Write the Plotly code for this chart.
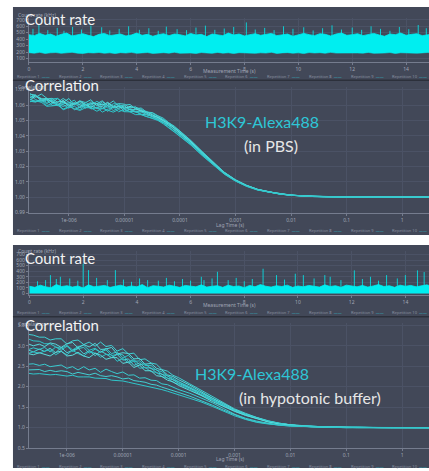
import plotly.graph_objects as go

W, H = 429, 471

# ---------------- data ----------------
LAG_TIME_S = [2.0e-7, 2.5e-7, 3.2e-7, 4.0e-7, 5.0e-7, 6.3e-7, 7.9e-7, 1.0e-6, 1.26e-6, 1.58e-6,
              2.0e-6, 2.5e-6, 3.2e-6, 4.0e-6, 5.0e-6, 6.3e-6, 7.9e-6, 1.0e-5, 1.26e-5, 1.58e-5,
              2.0e-5, 2.5e-5, 3.2e-5, 4.0e-5, 5.0e-5, 6.3e-5, 7.9e-5, 1.0e-4, 1.58e-4, 2.5e-4,
              4.0e-4, 6.3e-4, 1.0e-3, 1.58e-3, 2.5e-3, 4.0e-3, 6.3e-3, 1.0e-2, 1.58e-2, 2.5e-2,
              4.0e-2, 6.3e-2, 0.1, 0.158, 0.25, 0.4, 0.63, 1.0, 1.58, 2.5, 3.2]

PBS_REP1 = [1.0675, 1.0650, 1.0672, 1.0645, 1.0618, 1.0642, 1.0617, 1.0643, 1.0600, 1.0628, 1.0616, 1.0635, 1.0593, 1.0622, 1.0600, 1.0627, 1.0594, 1.0600, 1.0604, 1.0576, 1.0581, 1.0555, 1.0551, 1.0531, 1.0515, 1.0485, 1.0463, 1.0431, 1.0369, 1.0298, 1.0226, 1.0163, 1.0114, 1.0078, 1.0052, 1.0035, 1.0022, 1.0014, 1.0009, 1.0006, 1.0004, 1.0003, 1.0002, 1.0003, 1.0002, 1.0002, 1.0003, 1.0002, 1.0002, 1.0003, 1.0002]
PBS_REP2 = [1.0647, 1.0662, 1.0644, 1.0617, 1.0640, 1.0644, 1.0609, 1.0615, 1.0632, 1.0590, 1.0618, 1.0597, 1.0625, 1.0604, 1.0582, 1.0609, 1.0606, 1.0582, 1.0586, 1.0588, 1.0563, 1.0559, 1.0540, 1.0520, 1.0506, 1.0485, 1.0453, 1.0425, 1.0363, 1.0293, 1.0223, 1.0161, 1.0112, 1.0077, 1.0051, 1.0035, 1.0023, 1.0014, 1.0010, 1.0006, 1.0005, 1.0003, 1.0003, 1.0002, 1.0002, 1.0003, 1.0002, 1.0002, 1.0003, 1.0002, 1.0002]
PBS_REP3 = [1.0650, 1.0665, 1.0627, 1.0640, 1.0623, 1.0597, 1.0632, 1.0598, 1.0615, 1.0603, 1.0581, 1.0610, 1.0608, 1.0577, 1.0615, 1.0592, 1.0579, 1.0595, 1.0569, 1.0571, 1.0566, 1.0548, 1.0529, 1.0522, 1.0497, 1.0476, 1.0451, 1.0418, 1.0359, 1.0289, 1.0220, 1.0159, 1.0111, 1.0076, 1.0050, 1.0034, 1.0022, 1.0014, 1.0009, 1.0006, 1.0004, 1.0003, 1.0003, 1.0002, 1.0002, 1.0002, 1.0003, 1.0002, 1.0002, 1.0002, 1.0003]
PBS_REP4 = [1.0662, 1.0637, 1.0619, 1.0632, 1.0635, 1.0599, 1.0604, 1.0580, 1.0607, 1.0615, 1.0583, 1.0592, 1.0580, 1.0609, 1.0597, 1.0564, 1.0581, 1.0587, 1.0571, 1.0553, 1.0558, 1.0546, 1.0522, 1.0512, 1.0496, 1.0469, 1.0440, 1.0412, 1.0353, 1.0284, 1.0217, 1.0156, 1.0110, 1.0075, 1.0050, 1.0034, 1.0022, 1.0013, 1.0009, 1.0006, 1.0004, 1.0003, 1.0002, 1.0002, 1.0003, 1.0002, 1.0002, 1.0002, 1.0003, 1.0002, 1.0002]
PBS_REP5 = [1.0625, 1.0620, 1.0632, 1.0635, 1.0598, 1.0602, 1.0617, 1.0603, 1.0570, 1.0588, 1.0606, 1.0575, 1.0583, 1.0592, 1.0560, 1.0587, 1.0594, 1.0560, 1.0574, 1.0556, 1.0541, 1.0536, 1.0527, 1.0504, 1.0488, 1.0466, 1.0437, 1.0408, 1.0348, 1.0280, 1.0214, 1.0154, 1.0108, 1.0074, 1.0049, 1.0033, 1.0021, 1.0013, 1.0008, 1.0005, 1.0004, 1.0002, 1.0002, 1.0002, 1.0001, 1.0002, 1.0002, 1.0001, 1.0002, 1.0002, 1.0001]
PBS_REP6 = [1.0637, 1.0622, 1.0634, 1.0597, 1.0610, 1.0614, 1.0569, 1.0585, 1.0592, 1.0570, 1.0598, 1.0577, 1.0585, 1.0554, 1.0572, 1.0589, 1.0556, 1.0572, 1.0556, 1.0558, 1.0538, 1.0525, 1.0516, 1.0504, 1.0484, 1.0456, 1.0430, 1.0400, 1.0342, 1.0275, 1.0211, 1.0152, 1.0106, 1.0072, 1.0048, 1.0033, 1.0021, 1.0013, 1.0008, 1.0005, 1.0003, 1.0002, 1.0002, 1.0001, 1.0002, 1.0002, 1.0001, 1.0002, 1.0002, 1.0001, 1.0002]
PBS_REP7 = [1.0633, 1.0658, 1.0640, 1.0643, 1.0616, 1.0620, 1.0625, 1.0591, 1.0608, 1.0626, 1.0604, 1.0583, 1.0611, 1.0600, 1.0618, 1.0585, 1.0592, 1.0578, 1.0592, 1.0579, 1.0559, 1.0556, 1.0536, 1.0518, 1.0502, 1.0480, 1.0451, 1.0421, 1.0360, 1.0291, 1.0221, 1.0159, 1.0111, 1.0076, 1.0051, 1.0034, 1.0022, 1.0014, 1.0009, 1.0006, 1.0004, 1.0003, 1.0002, 1.0002, 1.0002, 1.0003, 1.0002, 1.0002, 1.0002, 1.0003, 1.0002]
PBS_REP8 = [1.0639, 1.0624, 1.0636, 1.0609, 1.0632, 1.0606, 1.0591, 1.0607, 1.0614, 1.0582, 1.0600, 1.0609, 1.0577, 1.0576, 1.0594, 1.0581, 1.0598, 1.0574, 1.0558, 1.0560, 1.0555, 1.0539, 1.0528, 1.0510, 1.0488, 1.0467, 1.0441, 1.0410, 1.0351, 1.0283, 1.0216, 1.0155, 1.0109, 1.0075, 1.0050, 1.0034, 1.0022, 1.0014, 1.0009, 1.0006, 1.0004, 1.0003, 1.0002, 1.0002, 1.0002, 1.0002, 1.0002, 1.0003, 1.0002, 1.0002, 1.0002]
PBS_REP9 = [1.0671, 1.0666, 1.0628, 1.0641, 1.0644, 1.0618, 1.0643, 1.0619, 1.0606, 1.0624, 1.0592, 1.0621, 1.0609, 1.0628, 1.0596, 1.0593, 1.0610, 1.0606, 1.0580, 1.0587, 1.0572, 1.0552, 1.0548, 1.0528, 1.0509, 1.0483, 1.0458, 1.0429, 1.0366, 1.0296, 1.0225, 1.0162, 1.0113, 1.0078, 1.0052, 1.0035, 1.0023, 1.0015, 1.0010, 1.0007, 1.0005, 1.0004, 1.0003, 1.0003, 1.0002, 1.0003, 1.0003, 1.0002, 1.0003, 1.0002, 1.0003]
PBS_REP10 = [1.0622, 1.0627, 1.0619, 1.0592, 1.0595, 1.0599, 1.0574, 1.0590, 1.0577, 1.0565, 1.0583, 1.0582, 1.0560, 1.0579, 1.0567, 1.0554, 1.0571, 1.0557, 1.0556, 1.0538, 1.0538, 1.0525, 1.0508, 1.0500, 1.0478, 1.0453, 1.0425, 1.0396, 1.0339, 1.0272, 1.0209, 1.0150, 1.0105, 1.0071, 1.0047, 1.0033, 1.0021, 1.0013, 1.0008, 1.0005, 1.0003, 1.0002, 1.0001, 1.0002, 1.0002, 1.0001, 1.0002, 1.0002, 1.0001, 1.0002, 1.0002]

HYPO_REP1 = [3.28, 3.26, 3.21, 3.21, 3.14, 3.17, 3.17, 3.04, 3.12, 3.14, 3.03, 3.09, 2.99, 3.09, 2.98, 3.01, 2.87, 2.93, 2.80, 2.82, 2.66, 2.68, 2.58, 2.55, 2.42, 2.38, 2.28, 2.22, 2.07, 1.92, 1.76, 1.61, 1.46, 1.35, 1.25, 1.17, 1.11, 1.07, 1.05, 1.03, 1.02, 1.01, 1.01, 1.01, 1.004, 0.998, 1.002, 1.000, 0.999, 1.003, 1.001]
HYPO_REP2 = [3.17, 3.12, 3.11, 3.05, 3.05, 2.97, 2.94, 3.01, 2.90, 2.98, 3.01, 2.89, 2.94, 2.84, 2.94, 2.81, 2.85, 2.70, 2.77, 2.62, 2.63, 2.52, 2.52, 2.40, 2.37, 2.26, 2.21, 2.12, 2.00, 1.85, 1.72, 1.57, 1.43, 1.32, 1.24, 1.16, 1.10, 1.07, 1.04, 1.03, 1.02, 1.01, 1.01, 1.01, 1.003, 1.001, 0.998, 1.002, 1.000, 0.999, 1.002]
HYPO_REP3 = [3.05, 3.00, 3.04, 2.98, 3.07, 3.04, 2.96, 3.05, 3.08, 2.95, 3.03, 2.97, 3.06, 2.91, 2.92, 2.96, 2.80, 2.83, 2.81, 2.68, 2.69, 2.55, 2.57, 2.45, 2.41, 2.29, 2.25, 2.17, 2.04, 1.88, 1.72, 1.59, 1.44, 1.33, 1.24, 1.16, 1.11, 1.07, 1.05, 1.03, 1.02, 1.01, 1.01, 1.01, 1.002, 1.000, 1.003, 0.999, 1.001, 1.002, 0.998]
HYPO_REP4 = [2.90, 2.95, 2.91, 2.96, 2.85, 2.97, 2.89, 2.99, 2.86, 2.93, 2.96, 2.82, 2.92, 2.84, 2.90, 2.76, 2.79, 2.78, 2.61, 2.66, 2.54, 2.56, 2.44, 2.42, 2.30, 2.27, 2.17, 2.12, 1.97, 1.85, 1.69, 1.56, 1.42, 1.32, 1.23, 1.15, 1.10, 1.07, 1.04, 1.03, 1.02, 1.01, 1.01, 1.01, 1.001, 0.999, 1.002, 1.001, 0.998, 1.000, 1.002]
HYPO_REP5 = [2.90, 2.85, 2.92, 2.86, 2.94, 2.83, 2.96, 2.83, 2.89, 2.94, 2.80, 2.88, 2.76, 2.87, 2.80, 2.71, 2.79, 2.65, 2.68, 2.52, 2.58, 2.46, 2.46, 2.34, 2.31, 2.21, 2.17, 2.08, 1.97, 1.81, 1.68, 1.55, 1.41, 1.31, 1.23, 1.15, 1.10, 1.07, 1.04, 1.03, 1.02, 1.01, 1.01, 1.01, 1.000, 1.002, 0.999, 1.001, 1.003, 0.999, 1.000]
HYPO_REP6 = [2.81, 2.85, 2.82, 2.87, 2.90, 2.78, 2.86, 2.78, 2.89, 2.81, 2.75, 2.86, 2.82, 2.72, 2.79, 2.78, 2.62, 2.69, 2.58, 2.62, 2.45, 2.47, 2.37, 2.35, 2.25, 2.21, 2.11, 2.06, 1.94, 1.79, 1.67, 1.53, 1.40, 1.30, 1.22, 1.15, 1.10, 1.06, 1.04, 1.03, 1.02, 1.01, 1.01, 1.01, 1.002, 0.998, 1.001, 1.000, 1.002, 0.999, 1.001]
HYPO_REP7 = [2.81, 2.78, 2.83, 2.79, 2.75, 2.84, 2.87, 2.75, 2.77, 2.84, 2.75, 2.71, 2.82, 2.77, 2.67, 2.71, 2.71, 2.57, 2.60, 2.47, 2.53, 2.39, 2.39, 2.27, 2.25, 2.16, 2.12, 2.03, 1.91, 1.79, 1.64, 1.52, 1.40, 1.30, 1.22, 1.14, 1.09, 1.06, 1.04, 1.02, 1.02, 1.01, 1.01, 1.00, 1.001, 1.000, 0.998, 1.002, 1.001, 0.999, 1.000]
HYPO_REP8 = [2.55, 2.56, 2.52, 2.55, 2.49, 2.51, 2.53, 2.45, 2.49, 2.41, 2.49, 2.41, 2.45, 2.35, 2.43, 2.37, 2.32, 2.36, 2.28, 2.29, 2.21, 2.22, 2.16, 2.15, 2.07, 2.05, 1.99, 1.93, 1.84, 1.73, 1.61, 1.47, 1.33, 1.23, 1.16, 1.11, 1.07, 1.05, 1.03, 1.02, 1.01, 1.01, 1.01, 1.00, 1.002, 0.999, 1.001, 1.000, 0.998, 1.001, 1.000]
HYPO_REP9 = [2.41, 2.42, 2.42, 2.37, 2.40, 2.37, 2.39, 2.37, 2.31, 2.35, 2.32, 2.29, 2.33, 2.27, 2.25, 2.27, 2.24, 2.19, 2.21, 2.15, 2.13, 2.11, 2.06, 2.04, 1.99, 1.95, 1.90, 1.86, 1.77, 1.67, 1.55, 1.43, 1.31, 1.21, 1.14, 1.10, 1.06, 1.04, 1.03, 1.02, 1.01, 1.01, 1.00, 1.002, 1.000, 0.999, 1.001, 1.002, 0.999, 1.000, 1.001]
HYPO_REP10 = [2.33, 2.31, 2.32, 2.31, 2.29, 2.30, 2.28, 2.26, 2.28, 2.24, 2.24, 2.24, 2.21, 2.20, 2.20, 2.16, 2.15, 2.14, 2.11, 2.08, 2.06, 2.03, 2.00, 1.97, 1.93, 1.89, 1.85, 1.80, 1.72, 1.63, 1.52, 1.40, 1.29, 1.20, 1.13, 1.09, 1.06, 1.04, 1.03, 1.02, 1.01, 1.01, 1.00, 1.001, 0.999, 1.002, 1.000, 0.998, 1.001, 1.000, 0.999]

PBS_CURVES = [PBS_REP1, PBS_REP2, PBS_REP3, PBS_REP4, PBS_REP5,
              PBS_REP6, PBS_REP7, PBS_REP8, PBS_REP9, PBS_REP10]
HYPO_CURVES = [HYPO_REP1, HYPO_REP2, HYPO_REP3, HYPO_REP4, HYPO_REP5,
               HYPO_REP6, HYPO_REP7, HYPO_REP8, HYPO_REP9, HYPO_REP10]

COUNT_STEP_S = 0.2
CR1_UPPER = [470, 455, 490, 460, 480, 445, 475, 495, 450, 470,
             485, 460, 440, 475, 490, 455, 470, 480, 450, 465,
             495, 460, 475, 445, 470, 485, 455, 480, 470, 450,
             490, 465, 475, 440, 480, 470, 455, 495, 465, 480,
             450, 470, 485, 460, 475, 490, 455, 470, 480, 445,
             465, 490, 470, 455, 485, 475, 450, 480, 495, 460,
             470, 485, 455, 475, 490, 465, 445, 480, 470, 495,
             460, 475, 485, 455, 470, 480]
CR1_LOWER = [190, 182, 195, 178, 188, 192, 180, 186, 196, 183,
             178, 190, 185, 193, 181, 188, 176, 191, 184, 195,
             180, 187, 192, 179, 186, 190, 183, 197, 181, 188,
             185, 178, 192, 186, 180, 194, 183, 189, 177, 190,
             186, 193, 180, 188, 184, 196, 179, 187, 191, 182,
             188, 176, 192, 185, 190, 181, 195, 184, 187, 179,
             191, 186, 183, 194, 180, 188, 185, 192, 178, 189,
             184, 190, 182, 187, 193, 185]
CR1_SPIKE_T = [0.15, 0.37, 0.7, 1.05, 1.3, 1.62, 1.95, 2.3, 2.7, 3.0, 3.35, 3.7, 4.1, 4.45, 4.8,
               5.1, 5.5, 5.85, 6.2, 6.55, 6.9, 7.25, 7.6, 8.07, 8.4, 8.75, 9.1, 9.45, 9.8, 10.2,
               10.55, 10.9, 11.25, 11.6, 12.0, 12.35, 12.7, 13.05, 13.4, 13.75, 14.1, 14.45, 14.75]
CR1_SPIKE_H = [560, 625, 540, 575, 530, 590, 550, 610, 585, 535, 560, 600, 545, 570, 530,
               595, 555, 540, 580, 610, 545, 565, 590, 660, 550, 575, 540, 600, 560, 585,
               535, 570, 615, 550, 580, 545, 600, 560, 530, 590, 555, 620, 570]

CR2_UPPER = [130, 110, 150, 120, 105, 160, 125, 140, 115, 135,
             100, 155, 120, 130, 145, 110, 125, 150, 115, 135,
             120, 160, 105, 140, 130, 115, 150, 125, 110, 145,
             135, 120, 155, 115, 130, 140, 110, 150, 125, 135,
             105, 145, 120, 160, 130, 115, 140, 125, 150, 110,
             135, 120, 145, 130, 115, 155, 125, 140, 110, 150,
             130, 120, 145, 115, 135, 160, 125, 140, 110, 150,
             130, 145, 120, 135, 155, 125]
CR2_SPIKE_T = [0.3, 0.6, 0.78, 1.0, 1.15, 1.5, 1.8, 2.0, 2.2, 2.5, 2.9, 3.2, 3.5, 3.8, 4.1, 4.4,
               4.8, 5.1, 5.4, 5.7, 6.0, 6.4, 6.5, 6.8, 7.0, 7.4, 7.7, 8.0, 8.3, 8.7, 9.2, 9.5,
               9.9, 10.2, 10.6, 11.0, 11.2, 11.6, 12.1, 12.4, 12.7, 13.0, 13.3, 13.7, 14.0, 14.45, 14.7]
CR2_SPIKE_H = [220, 240, 330, 260, 300, 270, 230, 535, 420, 280, 240, 420, 250, 210, 270, 240,
               230, 280, 220, 260, 230, 300, 240, 270, 390, 240, 280, 220, 260, 445, 330, 250,
               355, 330, 270, 330, 300, 240, 415, 260, 300, 230, 330, 270, 330, 415, 385]

COUNT_TICKS = [0, 2, 4, 6, 8, 10, 12, 14]
LAG_TICKVALS = [1e-6, 1e-5, 1e-4, 1e-3, 1e-2, 1e-1, 1]
LAG_TICKTEXT = ["1e-006", "0.00001", "0.0001", "0.001", "0.01", "0.1", "1"]
PBS_YTICKS = [0.99, 1.00, 1.01, 1.02, 1.03, 1.04, 1.05, 1.06, 1.07]
HYPO_YTICKS = [0.5, 1.0, 1.5, 2.0, 2.5, 3.0, 3.5]
CR1_YTICKS = [100, 200, 300, 400, 500, 600, 700]
CR2_YTICKS = [0, 100, 200, 300, 400, 500, 600, 700]
REPETITIONS = ["Repetition %d" % k for k in range(1, 11)]

for c in PBS_CURVES + HYPO_CURVES:
    assert len(c) == len(LAG_TIME_S), len(c)

# ---------------- style ----------------
BG = "#424858"
GRID = "#4b5265"
AXLINE = "#757c8e"
TICKTXT = "#a0a6b5"
BAND = "#00eef0"
CURVE_COLORS = ["#3fd0d4", "#2fc3c8", "#55d9db", "#36c8cc", "#48d2d6",
                "#2dbfc6", "#5adcdc", "#3acbd0", "#44cfd2", "#30c6cb"]
TITLE_CYAN = "#2ec6d6"


def px(x):
    return x / W


def py(y):
    return 1 - y / H


def ydom(top, bottom):
    return [py(bottom), py(top)]


fig = go.Figure()


def times(n):
    return [i * COUNT_STEP_S for i in range(n)]


def spikes(ts, hs, base):
    xs, ys = [], []
    for t, h in zip(ts, hs):
        xs += [t, t, None]
        ys += [base, h, None]
    return xs, ys


# count rate panel 1
t1 = times(len(CR1_UPPER))
fig.add_trace(go.Scatter(x=t1, y=CR1_LOWER, mode="lines", line=dict(width=0.6, color=BAND),
                         xaxis="x", yaxis="y", hoverinfo="skip"))
fig.add_trace(go.Scatter(x=t1, y=CR1_UPPER, mode="lines", line=dict(width=0.8, color=BAND),
                         fill="tonexty", fillcolor=BAND, xaxis="x", yaxis="y", hoverinfo="skip"))
sx, sy = spikes(CR1_SPIKE_T, CR1_SPIKE_H, 400)
fig.add_trace(go.Scatter(x=sx, y=sy, mode="lines", line=dict(width=0.8, color=BAND),
                         xaxis="x", yaxis="y", hoverinfo="skip"))

# correlation panel 1
for i, c in enumerate(PBS_CURVES):
    fig.add_trace(go.Scatter(x=LAG_TIME_S, y=c, mode="lines", name=REPETITIONS[i],
                             line=dict(width=1, color=CURVE_COLORS[i]), xaxis="x2", yaxis="y2"))

# count rate panel 2
t2 = times(len(CR2_UPPER))
fig.add_trace(go.Scatter(x=t2, y=CR2_UPPER, mode="lines", line=dict(width=0.8, color=BAND),
                         fill="tozeroy", fillcolor=BAND, xaxis="x3", yaxis="y3", hoverinfo="skip"))
sx, sy = spikes(CR2_SPIKE_T, CR2_SPIKE_H, 60)
fig.add_trace(go.Scatter(x=sx, y=sy, mode="lines", line=dict(width=0.8, color=BAND),
                         xaxis="x3", yaxis="y3", hoverinfo="skip"))

# correlation panel 2
for i, c in enumerate(HYPO_CURVES):
    fig.add_trace(go.Scatter(x=LAG_TIME_S, y=c, mode="lines", name=REPETITIONS[i],
                             line=dict(width=1, color=CURVE_COLORS[i]), xaxis="x4", yaxis="y4"))

ax = dict(showgrid=True, gridcolor=GRID, gridwidth=1, showline=True, linecolor=AXLINE,
          linewidth=1, ticks="outside", ticklen=2, tickcolor=AXLINE, zeroline=False,
          tickfont=dict(size=5, color=TICKTXT, family="Noto Sans"))

XDOM = [px(28), 1]
fig.update_layout(
    width=W, height=H, margin=dict(l=0, r=0, t=0, b=0),
    paper_bgcolor="white", plot_bgcolor="rgba(0,0,0,0)", showlegend=False,
    xaxis=dict(ax, domain=XDOM, anchor="y", range=[0, 14.85], tickvals=COUNT_TICKS),
    yaxis=dict(ax, domain=ydom(17, 62), anchor="x", range=[38, 731], tickvals=CR1_YTICKS),
    xaxis2=dict(ax, type="log", domain=XDOM, anchor="y2", range=[-6.718, 0.481],
                tickvals=LAG_TICKVALS, ticktext=LAG_TICKTEXT),
    yaxis2=dict(ax, domain=ydom(87, 213.5), anchor="x2", range=[0.99, 1.0716],
                tickvals=PBS_YTICKS, tickformat=".2f"),
    xaxis3=dict(ax, domain=XDOM, anchor="y3", range=[-0.02, 14.88], tickvals=COUNT_TICKS),
    yaxis3=dict(ax, domain=ydom(252, 297), anchor="x3", range=[-36, 766], tickvals=CR2_YTICKS),
    xaxis4=dict(ax, type="log", domain=XDOM, anchor="y4", range=[-6.68, 0.48],
                tickvals=LAG_TICKVALS, ticktext=LAG_TICKTEXT),
    yaxis4=dict(ax, domain=ydom(325, 451), anchor="x4", range=[0.5, 3.55],
                tickvals=HYPO_YTICKS, tickformat=".1f"),
)

shapes = []
# dark panels
for (y0, y1) in [(6, 236), (246, 471)]:
    shapes.append(dict(type="rect", xref="paper", yref="paper", x0=px(12), x1=1,
                       y0=py(y1), y1=py(y0), fillcolor=BG, line=dict(width=0), layer="below"))
# separators
for ys in [80, 318.5]:
    shapes.append(dict(type="line", xref="paper", yref="paper", x0=px(12), x1=1,
                       y0=py(ys), y1=py(ys), line=dict(color="#2c303b", width=1.5)))
fig.update_layout(shapes=shapes)

ann = []


def text(x, y, s, size, color, anchor="left", family="Noto Sans"):
    ann.append(dict(x=px(x), y=py(y), xref="paper", yref="paper", text=s, showarrow=False,
                    xanchor=anchor, yanchor="middle", font=dict(size=size, color=color, family=family)))


# small axis titles
text(15, 14, "Count rate (kHz)", 5, TICKTXT)
text(229, 70.5, "Measurement Time (s)", 5, TICKTXT, "center")
text(15, 87, "Correlation", 5, TICKTXT)
text(230, 225.5, "Lag Time (s)", 5, TICKTXT, "center")
text(15, 252, "Count rate (kHz)", 5, TICKTXT)
text(229, 306.5, "Measurement Time (s)", 5, TICKTXT, "center")
text(15, 326, "Correlation", 5, TICKTXT)
text(230, 462, "Lag Time (s)", 5, TICKTXT, "center")

# legend rows
for yrow in [76, 231.5, 314, 469]:
    for k, name in enumerate(REPETITIONS):
        x0 = 14 + 41.8 * k
        text(x0, yrow, name + "&nbsp;&nbsp;<span style='color:%s'>——</span>" % TITLE_CYAN,
             4, "#8b91a1")

# big overlay labels
WHITE = "#f3f3f3"
text(22, 18.5, "Count rate", 15, WHITE, family="Lato")
text(22, 84.3, "Correlation", 15, WHITE, family="Lato")
text(22, 259.3, "Count rate", 15, WHITE, family="Lato")
text(22, 326.3, "Correlation", 15, WHITE, family="Lato")
text(262, 122, "H3K9-Alexa488", 16, TITLE_CYAN, "center", "Lato")
text(271, 146, "(in PBS)", 16, "#e6e6e6", "center", "Lato")
text(252, 376, "H3K9-Alexa488", 16, TITLE_CYAN, "center", "Lato")
text(310, 399.5, "(in hypotonic buffer)", 16, "#e6e6e6", "center", "Lato")

fig.update_layout(annotations=ann)

fig.write_html("out.html", config={"displayModeBar": False},
               post_script="document.body.style.margin='0';")
